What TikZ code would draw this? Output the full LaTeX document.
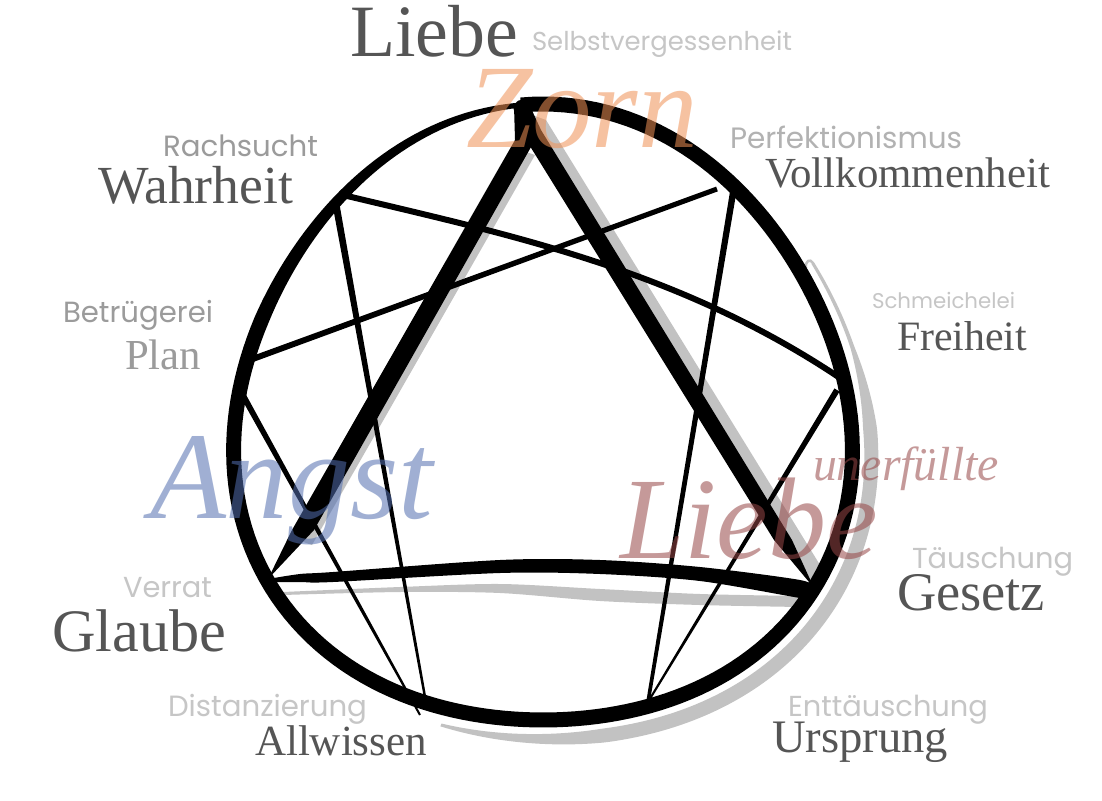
\documentclass[tikz,border=0pt]{standalone}
\usepackage{fontspec}
\setmainfont{Liberation Serif}
\newfontfamily\popfont{Poppins}
\usepackage{graphicx}
\usetikzlibrary{calc}
\definecolor{darktxt}{HTML}{555555}
\definecolor{midtxt}{HTML}{9B9B9B}
\definecolor{lighttxt}{HTML}{C6C6C6}
\definecolor{shadowgray}{HTML}{C2C2C2}
\definecolor{zorncol}{RGB}{240,145,85}
\definecolor{angstcol}{RGB}{82,111,176}
\definecolor{liebecol}{RGB}{150,70,70}
\newcommand\fitw[2]{\resizebox{#1pt}{!}{#2}}
\newcommand\taperline[4]{\fill ($(#1)!#3!90:(#2)$) -- ($(#2)!#4!-90:(#1)$) -- ($(#2)!#4!90:(#1)$) -- ($(#1)!#3!-90:(#2)$) -- cycle;}
\tikzset{
  word/.style={anchor=base west, inner sep=0pt, outer sep=0pt},
  virtue/.style={word, text=darktxt, font=\fontsize{40}{40}\selectfont},
  vice/.style={word, text=midtxt, font=\popfont\fontsize{24}{24}\selectfont},
  vicelight/.style={vice, text=lighttxt},
  passion/.style={word, font=\itshape\fontsize{100}{100}\selectfont, text opacity=0.55},
  ringline/.style={line cap=round, line join=round},
  shade/.style={fill=shadowgray},
  declare function={rr(\t)=308+10*cos(3*(\t-30));
                    rs(\t)=321+10*cos(3*(\t-30));
                    hw(\t)=7.5-5*(\t-560)/66;
                    sh(\t)=min(7,1.5+0.03*(\t-328)+0.3*max(0,\t-345),1.5+5.5*(470-\t)/30);},
}
\begin{document}
\begin{tikzpicture}[x=1pt,y=-1pt]
\useasboundingbox (0,0) rectangle (1102,800);
\fill[white] (0,0) rectangle (1102,800);

% enneagram points
\coordinate (t9) at (521,106);
\coordinate (t3) at (814,588);
\coordinate (t6) at (268,579);
\coordinate (h1a) at (717,189);
\coordinate (h1b) at (733,193);
\coordinate (h4) at (648,702);
\coordinate (h2a) at (837,390);
\coordinate (h2b) at (843,380);
\coordinate (h8a) at (343,195);
\coordinate (h8b) at (335,199);
\coordinate (h5a) at (425,697);
\coordinate (h5b) at (420,715);
\coordinate (h7a) at (240,390);
\coordinate (h7b) at (250,360);

% gray shadows
\fill[shade] (532,115) -- (546,120) -- (828,578) -- (812,586) -- cycle;
\fill[shade] (520,150) -- (535,155) -- (312,545) -- (298,540) -- cycle;
\fill[shade] plot[smooth] coordinates {(283,592) (400,587) (500,584) (600,589) (700,594) (800,596)}
  -- plot[smooth] coordinates {(800,607) (700,605) (600,601) (500,593) (400,592) (283,595)} -- cycle;
\fill[shade] plot[domain=328:470, samples=140, variable=\t] ({549+(rs(\t)+sh(\t))*cos(\t)}, {428+(rs(\t)+sh(\t))*sin(\t)})
  -- plot[domain=0:142, samples=140, variable=\t] ({549+(rs(470-\t)-sh(470-\t))*cos(470-\t)}, {428+(rs(470-\t)-sh(470-\t))*sin(470-\t)}) -- cycle;
\draw[shadowgray, line width=2.5pt, ringline] (813,263) .. controls (810,258) and (805,261) .. (806,268);

% outer ring
\fill plot[domain=266:560, samples=150, variable=\t] ({543+(rr(\t)+7.5)*cos(\t)}, {422+(rr(\t)+7.5)*sin(\t)})
  -- plot[domain=560:626, samples=40, variable=\t] ({543+(rr(\t)+hw(\t))*cos(\t)}, {422+(rr(\t)+hw(\t))*sin(\t)})
  -- plot[domain=0:66, samples=40, variable=\t] ({543+(rr(626-\t)-hw(626-\t))*cos(626-\t)}, {422+(rr(626-\t)-hw(626-\t))*sin(626-\t)})
  -- plot[domain=0:294, samples=150, variable=\t] ({543+(rr(560-\t)-7.5)*cos(560-\t)}, {422+(rr(560-\t)-7.5)*sin(560-\t)})
  -- cycle;

% triangle
\fill (513,107) -- (529,104) -- (541,130) -- (792,540) -- (t3) -- (774,540) -- (520,130) -- cycle;
\fill (514,106) -- (528,108) -- (535,140) -- (314,530) -- (t6) -- (292,530) -- (515,140) -- cycle;
\fill plot[smooth] coordinates {(t6) (300,574) (333,572) (500,560) (600,560) (700,567) (800,580) (t3)}
  -- plot[smooth] coordinates {(814,599) (800,598) (700,581) (600,574) (500,573) (333,582) (300,582) (268,582)} -- cycle;
\fill (t9) circle[radius=6pt];

% hexad
\taperline{h1b}{h4}{3.2pt}{1.8pt}
\taperline{h4}{h2a}{1pt}{3pt}
\draw[line width=6pt] (h2b) .. controls (680,270) and (510,235) .. (h8a);
\taperline{h8b}{h5a}{3.5pt}{1.2pt}
\taperline{h5b}{h7a}{1pt}{3pt}
\taperline{h7b}{h1a}{3pt}{2.5pt}

% words
\node[virtue] (liebetop) at (350,57) {\fitw{168}{Liebe}};
\node[vicelight] (selbst) at (532,51) {\fitw{260}{Selbstvergessenheit}};
\node[passion, text=zorncol] (zorn) at (466,147) {\fitw{232}{Zorn}};
\node[vicelight, text=lighttxt!90!black] (perfekt) at (730,148) {\fitw{232}{Perfektionismus}};
\node[virtue] (vollk) at (765,187) {\fitw{285}{Vollkommenheit}};
\node[vice] (rach) at (163,156) {\fitw{155}{Rachsucht}};
\node[virtue] (wahr) at (98,203) {\fitw{195}{Wahrheit}};
\node[vicelight] (schmei) at (872,308) {\fitw{143}{Schmeichelei}};
\node[virtue] (frei) at (897,350) {\fitw{130}{Freiheit}};
\node[vice] (betrug) at (63,322) {\fitw{150}{Betrügerei}};
\node[virtue, text=midtxt] (plan) at (125,369) {\fitw{76}{Plan}};
\node[passion, text=angstcol] (angst) at (150,518) {\fitw{283}{Angst}};
\node[passion, text=liebecol] (unerf) at (813,480) {\fitw{186}{unerfüllte}};
\node[passion, text=liebecol] (liebeit) at (620,558) {\fitw{258}{Liebe}};
\node[vicelight] (taeusch) at (912,568) {\fitw{161}{Täuschung}};
\node[virtue] (gesetz) at (897,610) {\fitw{148}{Gesetz}};
\node[vicelight] (verrat) at (123,597) {\fitw{89}{Verrat}};
\node[virtue] (glaube) at (52,651) {\fitw{174}{Glaube}};
\node[vicelight] (entt) at (788,716) {\fitw{200}{Enttäuschung}};
\node[virtue] (urspr) at (772,752) {\fitw{176}{Ursprung}};
\node[vicelight] (dist) at (168,716) {\fitw{199}{Distanzierung}};
\node[virtue] (allw) at (255,755) {\fitw{172}{Allwissen}};
\end{tikzpicture}
\end{document}
